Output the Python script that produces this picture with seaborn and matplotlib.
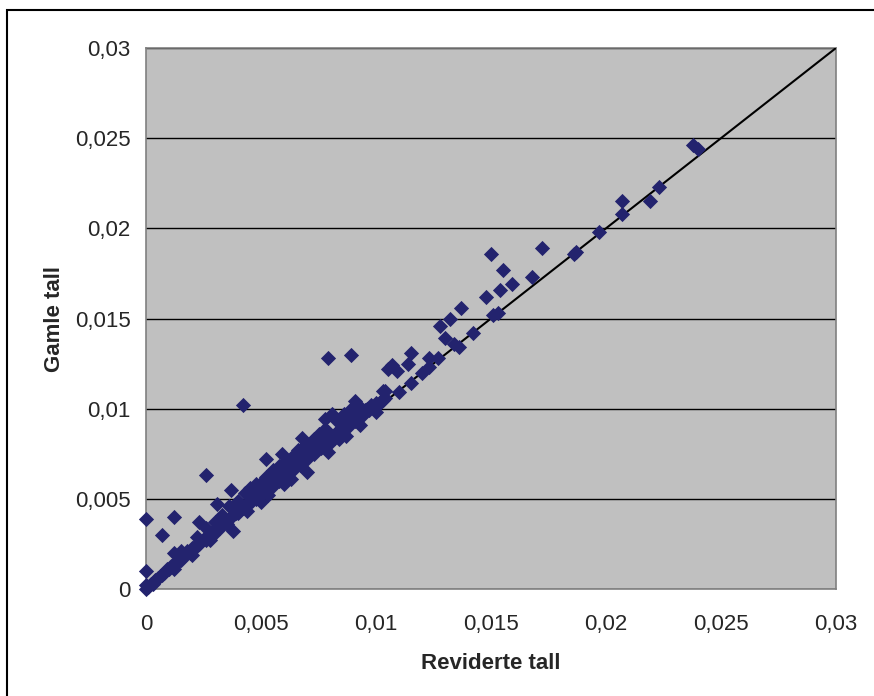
import numpy as np
import pandas as pd
import matplotlib
matplotlib.use("Agg")
import matplotlib.pyplot as plt
from matplotlib.patches import Rectangle
import seaborn as sns

# Reviderte tall (x) og gamle tall (y)
reviderte = [
    # tett bånd langs diagonalen
    0.0000, 0.0001, 0.0002, 0.0003, 0.0004, 0.0005, 0.0006, 0.0007, 0.0008, 0.0009,
    0.0010, 0.0011, 0.0012, 0.0013, 0.0014, 0.0015, 0.0016, 0.0017, 0.0018, 0.0019,
    0.0020, 0.0021, 0.0022, 0.0023, 0.0024, 0.0025, 0.0026, 0.0027, 0.0028, 0.0029,
    0.0030, 0.0031, 0.0032, 0.0033, 0.0034, 0.0035, 0.0036, 0.0037, 0.0038, 0.0039,
    0.0040, 0.0041, 0.0042, 0.0043, 0.0044, 0.0045, 0.0046, 0.0047, 0.0048, 0.0049,
    0.0050, 0.0051, 0.0052, 0.0053, 0.0054, 0.0055, 0.0056, 0.0057, 0.0058, 0.0059,
    0.0060, 0.0061, 0.0062, 0.0063, 0.0064, 0.0065, 0.0066, 0.0067, 0.0068, 0.0069,
    0.0070, 0.0071, 0.0072, 0.0073, 0.0074, 0.0075, 0.0076, 0.0077, 0.0078, 0.0079,
    0.0080, 0.0081, 0.0082, 0.0083, 0.0084, 0.0085, 0.0086, 0.0087, 0.0088, 0.0089,
    0.0090, 0.0091, 0.0092, 0.0093, 0.0094, 0.0095, 0.0096, 0.0097, 0.0098, 0.0099,
    0.0100, 0.0101, 0.0102, 0.0103, 0.0104,
    # øvre kant av båndet
    0.0015, 0.0022, 0.0026, 0.0030, 0.0033, 0.0036, 0.0040, 0.0043, 0.0045, 0.0048,
    0.0052, 0.0055, 0.0058, 0.0061, 0.0064, 0.0066, 0.0069, 0.0072, 0.0075, 0.0078,
    0.0083, 0.0086, 0.0089, 0.0023, 0.0051, 0.0059, 0.0068, 0.0073, 0.0079,
    # nedre kant
    0.0012, 0.0020, 0.0028, 0.0038, 0.0044, 0.0053, 0.0060, 0.0070, 0.0079, 0.0084,
    0.0093, 0.0100, 0.0050, 0.0063, 0.0087,
    # avvikere nær null
    0.0000, 0.0000, 0.0000, 0.0007, 0.0012, 0.0012, 0.0026, 0.0031, 0.0037, 0.0042,
    0.0052, 0.0079, 0.0089, 0.0078, 0.0081, 0.0091, 0.0093, 0.0104,
    # 0,0105 - 0,015
    0.0103, 0.0105, 0.0107, 0.0109, 0.0110, 0.0114, 0.0115, 0.0115, 0.0120, 0.0123,
    0.0123, 0.0127, 0.0128, 0.0130, 0.0132, 0.0134, 0.0136, 0.0137, 0.0142,
    # øvre del
    0.0148, 0.0151, 0.0153, 0.0150, 0.0154, 0.0155, 0.0159, 0.0168, 0.0172, 0.0186,
    0.0187, 0.0197, 0.0207, 0.0207, 0.0219, 0.0223, 0.0238, 0.0240,
]
gamle = [
    0.0000, 0.0001, 0.0003, 0.0003, 0.0005, 0.0006, 0.0007, 0.0008, 0.0009, 0.0011,
    0.0011, 0.0013, 0.0013, 0.0015, 0.0016, 0.0016, 0.0018, 0.0019, 0.0021, 0.0020,
    0.0023, 0.0022, 0.0025, 0.0025, 0.0026, 0.0028, 0.0027, 0.0030, 0.0031, 0.0030,
    0.0033, 0.0034, 0.0034, 0.0036, 0.0037, 0.0036, 0.0039, 0.0040, 0.0041, 0.0042,
    0.0042, 0.0044, 0.0045, 0.0046, 0.0047, 0.0048, 0.0049, 0.0051, 0.0050, 0.0053,
    0.0053, 0.0055, 0.0054, 0.0057, 0.0058, 0.0057, 0.0060, 0.0061, 0.0060, 0.0063,
    0.0064, 0.0063, 0.0066, 0.0067, 0.0066, 0.0069, 0.0070, 0.0069, 0.0072, 0.0073,
    0.0072, 0.0075, 0.0076, 0.0075, 0.0078, 0.0079, 0.0078, 0.0081, 0.0082, 0.0080,
    0.0084, 0.0085, 0.0084, 0.0087, 0.0088, 0.0087, 0.0090, 0.0091, 0.0090, 0.0093,
    0.0094, 0.0093, 0.0096, 0.0097, 0.0096, 0.0099, 0.0100, 0.0099, 0.0102, 0.0101,
    0.0103, 0.0102, 0.0104, 0.0105, 0.0106,
    0.0021, 0.0029, 0.0034, 0.0037, 0.0041, 0.0046, 0.0049, 0.0053, 0.0056, 0.0058,
    0.0062, 0.0066, 0.0068, 0.0071, 0.0074, 0.0077, 0.0080, 0.0082, 0.0086, 0.0089,
    0.0093, 0.0097, 0.0100, 0.0037, 0.0060, 0.0075, 0.0084, 0.0083, 0.0087,
    0.0011, 0.0019, 0.0027, 0.0032, 0.0043, 0.0052, 0.0058, 0.0065, 0.0076, 0.0083,
    0.0091, 0.0098, 0.0048, 0.0061, 0.0085,
    0.0039, 0.0010, 0.0002, 0.0030, 0.0040, 0.0020, 0.0063, 0.0047, 0.0055, 0.0102,
    0.0072, 0.0128, 0.0130, 0.0094, 0.0097, 0.0104, 0.0101, 0.0110,
    0.0110, 0.0122, 0.0124, 0.0121, 0.0109, 0.0125, 0.0131, 0.0114, 0.0120, 0.0128,
    0.0123, 0.0128, 0.0146, 0.0139, 0.0150, 0.0136, 0.0134, 0.0156, 0.0142,
    0.0162, 0.0152, 0.0153, 0.0186, 0.0166, 0.0177, 0.0169, 0.0173, 0.0189, 0.0186,
    0.0187, 0.0198, 0.0215, 0.0208, 0.0215, 0.0223, 0.0246, 0.0244,
]

axis_limits = [0, 0.03]
tick_values = [0, 0.005, 0.01, 0.015, 0.02, 0.025, 0.03]
tick_labels = ["0", "0,005", "0,01", "0,015", "0,02", "0,025", "0,03"]

df = pd.DataFrame({"Reviderte tall": reviderte, "Gamle tall": gamle})

sns.set_style("white")
plt.rcParams["font.family"] = ["Liberation Sans", "DejaVu Sans"]

fig = plt.figure(figsize=(8.74, 6.96), dpi=100)
ax = fig.add_axes([146 / 874, 1 - 589 / 696, 690 / 874, 541 / 696])
ax.set_facecolor("#C0C0C0")

# rammen rundt hele diagrammet
fig.patches.append(Rectangle((7 / 874, -0.05), 1.1, 1 - 10 / 696 + 0.05,
                             transform=fig.transFigure, fill=False,
                             edgecolor="black", linewidth=1.5, zorder=0))

ax.set_yticks(tick_values)
ax.yaxis.grid(True, color="black", linewidth=1)
ax.xaxis.grid(False)
ax.set_axisbelow(True)

sns.lineplot(x=axis_limits, y=axis_limits, ax=ax, color="black", linewidth=1.5, zorder=3)
sns.scatterplot(data=df, x="Reviderte tall", y="Gamle tall", ax=ax, marker="D",
                s=60, color="#23236E", linewidth=0, zorder=4, clip_on=False)

ax.set_xlim(axis_limits)
ax.set_ylim(axis_limits)
ax.set_xticks(tick_values)
ax.set_xticklabels(tick_labels, fontsize=16)
ax.set_yticklabels(tick_labels, fontsize=16)
ax.tick_params(axis="both", direction="out", length=5, width=1, color="#808080")
ax.tick_params(axis="x", pad=13)
ax.tick_params(axis="y", pad=6)

for spine in ax.spines.values():
    spine.set_visible(True)
    spine.set_color("#808080")
    spine.set_linewidth(1.2)

ax.set_xlabel("Reviderte tall", fontsize=16, fontweight="bold", labelpad=13)
ax.set_ylabel("Gamle tall", fontsize=16, fontweight="bold", labelpad=7)

fig.savefig("out.png", dpi=100)
